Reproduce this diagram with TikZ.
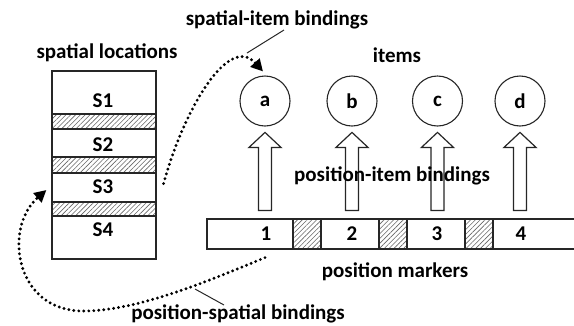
\documentclass[tikz,border=0pt]{standalone}
\usepackage{fontspec}
\setmainfont{Carlito}
\usetikzlibrary{patterns.meta,arrows.meta,calc}

\tikzset{
  lbl/.style={font=\fontsize{21}{25}\selectfont\bfseries, text=black, inner sep=0pt},
  cell/.style={draw=black!85, line width=1.2pt, fill=white, inner sep=0pt},
  hatch/.style={draw=black!85, line width=1.2pt, inner sep=0pt,
    pattern={Lines[angle=45,distance=3.4pt,line width=0.6pt]}, pattern color=black!60},
  item/.style={circle, draw=black!85, line width=1.1pt, minimum size=50pt, inner sep=0pt, lbl},
  arrowline/.style={draw=black!85, line width=1.2pt, fill=white, line join=miter},
  blockarrow/.pic={\draw[arrowline] (-6.5,0) -- (-6.5,-63) -- (-16,-63) -- (0,-78)
      -- (16,-63) -- (6.5,-63) -- (6.5,0) -- cycle;},
  binding/.style={draw=black, line width=3.2pt, dash pattern=on 0pt off 5pt,
    line cap=round, -{Triangle[length=12pt,width=12pt]}},
  leader/.style={draw=black!85, line width=1pt}
}

\begin{document}
\begin{tikzpicture}[x=1pt,y=-1pt]
\useasboundingbox (0,0) rectangle (574,325);

% column of spatial locations
\node[cell,  minimum width=104pt, minimum height=43pt] (s1)  at (104,92.5) {};
\node[hatch, minimum width=104pt, minimum height=15pt] (hs1) at (104,121.5) {};
\node[cell,  minimum width=104pt, minimum height=28pt] (s2)  at (104,143) {};
\node[hatch, minimum width=104pt, minimum height=16pt] (hs2) at (104,165) {};
\node[cell,  minimum width=104pt, minimum height=29pt] (s3)  at (104,187.5) {};
\node[hatch, minimum width=104pt, minimum height=14pt] (hs3) at (104,209) {};
\node[cell,  minimum width=104pt, minimum height=43pt] (s4)  at (104,237.5) {};
\node[lbl] (ls1) at (103,101) {S1};
\node[lbl] (ls2) at (103,145) {S2};
\node[lbl] (ls3) at (103,187) {S3};
\node[lbl] (ls4) at (103,230) {S4};
\node[lbl] (spatial) at (107,53) {spatial locations};

% items
\node[item] (a) at (265,101) {a};
\node[item] (b) at (352,101) {b};
\node[item] (c) at (437.5,101) {c};
\node[item] (d) at (520,101) {d};
\node[lbl] (items) at (397,55) {items};

% row of position markers
\node[cell,  minimum width=86pt, minimum height=30pt] (p1) at (250,234) {};
\node[hatch, minimum width=28pt, minimum height=30pt] (h1) at (307,234) {};
\node[cell,  minimum width=58pt, minimum height=30pt] (p2) at (350,234) {};
\node[hatch, minimum width=28pt, minimum height=30pt] (h2) at (393,234) {};
\node[cell,  minimum width=58pt, minimum height=30pt] (p3) at (436,234) {};
\node[hatch, minimum width=28pt, minimum height=30pt] (h3) at (479,234) {};
\node[cell,  minimum width=90pt, minimum height=30pt] (p4) at (538,234) {};
\node[lbl] (n1) at (266,234) {1};
\node[lbl] (n2) at (352,234) {2};
\node[lbl] (n3) at (437,234) {3};
\node[lbl] (n4) at (521,234) {4};
\node[lbl] (markers) at (395,272) {position markers};

% position-item bindings
\foreach \p/\q in {p1/a,p2/b,p3/c,p4/d}
  \pic at ($(\q.south |- \p.north)+(0,-8)$) {blockarrow};
\node[lbl] (pib) at (392,176) {position-item bindings};

% spatial-item binding
\coordinate (fromS3) at ($(s3.east)+(7,-4)$);
\coordinate (toA) at ($(a.north)+(-2,-4)$);
\draw[binding] (fromS3) .. controls (183,112) and (228,33) .. (toA);
\node[lbl] (sib) at (277,20) {spatial-item bindings};
\draw[leader] (284,30) -- (247,53);

% position-spatial binding
\coordinate (fromP1) at ($(p1.south)+(15,8)$);
\coordinate (toS3) at ($(s3.west)+(-5,2.5)$);
\coordinate (bend) at (83,311);
\draw[binding] (fromP1) .. controls (215,278) and (140,311) .. (bend)
  .. controls (15,311) and (3,228) .. (toS3);
\node[lbl] (psb) at (238,313.5) {position-spatial bindings};
\draw[leader] (195,289) -- (224,305);
\end{tikzpicture}
\end{document}
